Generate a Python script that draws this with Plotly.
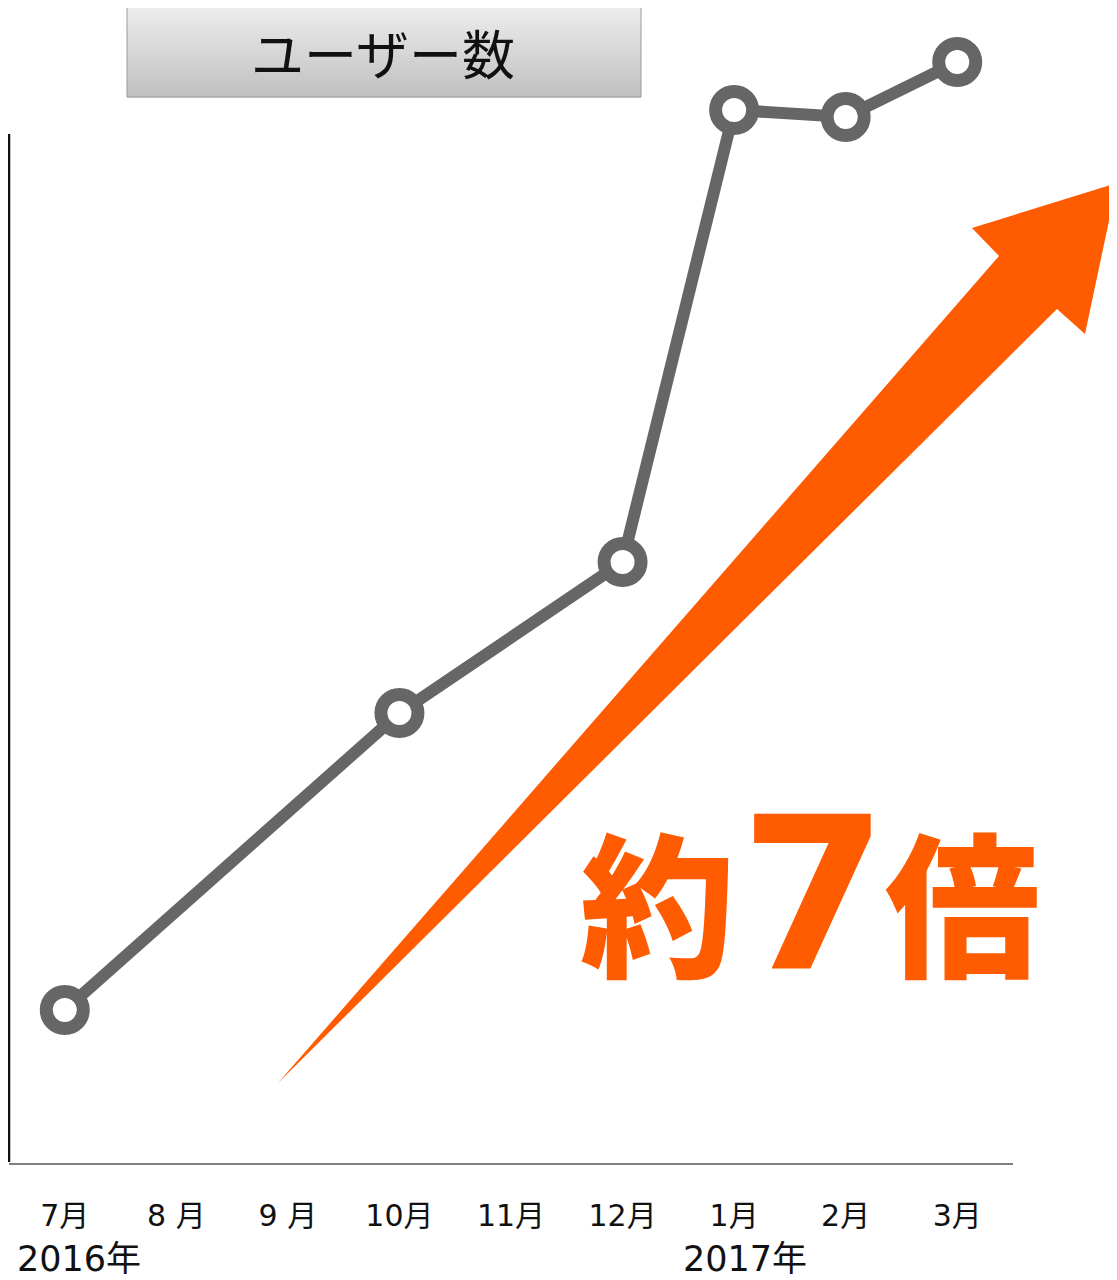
import plotly.graph_objects as go

# ---- data ----
months = ["7月", "8 月", "9 月", "10月", "11月", "12月", "1月", "2月", "3月"]
users = [153, None, None, 450, None, 601, 1053, 1046, 1101]   # relative user counts
year_labels = ["2016年", "2017年"]
series_name = "ユーザー数"
headline = ["約", "7", "倍"]

# ---- layout constants ----
OX, OY = 8, 8                      # page body margin of the browser
W, H = 1117 - OX, 1280 - OY
L, R, T, B = 9 - OX, 104, 0, 117
PW = W - L - R
PH = (1163 - OY) - T
GRAY = "#666666"
ORANGE = "#FF5B00"
CJK = "Noto Sans CJK JP"
LAT = "DejaVu Sans, Noto Sans CJK JP"


def px(x):
    return (x - OX - L) / PW


def py(y):
    return (1163 - y) / PH


fig = go.Figure()
fig.add_trace(go.Scatter(
    x=months, y=users, mode="lines+markers", connectgaps=True,
    line=dict(color=GRAY, width=12),
    marker=dict(size=37, color="white", line=dict(color=GRAY, width=13)),
    cliponaxis=False, hoverinfo="skip", showlegend=False,
))

shapes = []
# orange arrow (decoration)
arrow_pts = [(278, 1083), (999, 256), (972, 228), (1117, 183), (1085, 334), (1057, 309)]
path = "M " + " L ".join(f"{px(a):.5f},{py(b):.5f}" for a, b in arrow_pts) + " Z"
shapes.append(dict(type="path", xref="paper", yref="paper", path=path,
                   fillcolor=ORANGE, line=dict(width=0), layer="below"))
# y axis line (partial height)
shapes.append(dict(type="line", xref="paper", yref="paper", x0=px(9), x1=px(9),
                   y0=py(1162), y1=py(134), line=dict(color="#111111", width=2.5)))
# legend box with gradient
bx0, by0, bx1, by1 = 127, 7, 641, 97
n = 30
c0, c1 = (236, 236, 236), (193, 193, 193)
for i in range(n):
    t = i / (n - 1)
    c = tuple(round(c0[k] + (c1[k] - c0[k]) * t) for k in range(3))
    ya = by0 + (by1 - by0) * i / n
    yb = by0 + (by1 - by0) * (i + 1) / n
    shapes.append(dict(type="rect", xref="paper", yref="paper",
                       x0=px(bx0), x1=px(bx1), y0=py(ya), y1=py(yb + 0.5),
                       fillcolor="rgb(%d,%d,%d)" % c, line=dict(width=0)))
shapes.append(dict(type="rect", xref="paper", yref="paper",
                   x0=px(bx0), x1=px(bx1), y0=py(by0), y1=py(by1),
                   fillcolor="rgba(0,0,0,0)", line=dict(color="#9a9a9a", width=1)))

annotations = [
    dict(text=series_name, xref="paper", yref="paper", x=px(383), y=py(52),
         xanchor="center", yanchor="middle", showarrow=False,
         font=dict(family=CJK, size=53, color="#111111")),
    dict(text=year_labels[0], xref="paper", yref="paper", x=px(79), y=py(1259),
         xanchor="center", yanchor="middle", showarrow=False,
         font=dict(family=LAT, size=35, color="#111111")),
    dict(text=year_labels[1], xref="paper", yref="paper", x=px(745), y=py(1259),
         xanchor="center", yanchor="middle", showarrow=False,
         font=dict(family=LAT, size=35, color="#111111")),
    dict(text=headline[0], xref="paper", yref="paper", x=px(657), y=py(897),
         xanchor="center", yanchor="middle", showarrow=False,
         font=dict(family=CJK, size=155, color=ORANGE, weight=900)),
    dict(text=headline[1], xref="paper", yref="paper", x=px(814), y=py(895),
         xanchor="center", yanchor="middle", showarrow=False,
         font=dict(family="DejaVu Sans", size=212, color=ORANGE, weight=700)),
    dict(text=headline[2], xref="paper", yref="paper", x=px(962), y=py(897),
         xanchor="center", yanchor="middle", showarrow=False,
         font=dict(family=CJK, size=155, color=ORANGE, weight=900)),
]

fig.update_layout(
    width=W, height=H, margin=dict(l=L, r=R, t=T, b=B),
    paper_bgcolor="white", plot_bgcolor="white",
    shapes=shapes, annotations=annotations, showlegend=False,
    xaxis=dict(type="category", range=[-0.5, len(months) - 0.5], showgrid=False,
               zeroline=False, showline=True, linecolor="#808080", linewidth=2,
               ticks="", tickfont=dict(family=LAT, size=30, color="#111111"),
               ticklabelstandoff=25, fixedrange=True),
    yaxis=dict(range=[0, PH], showgrid=False, zeroline=False, showline=False,
               showticklabels=False, ticks="", fixedrange=True),
)

fig.write_html("out.html", config=dict(displayModeBar=False))
